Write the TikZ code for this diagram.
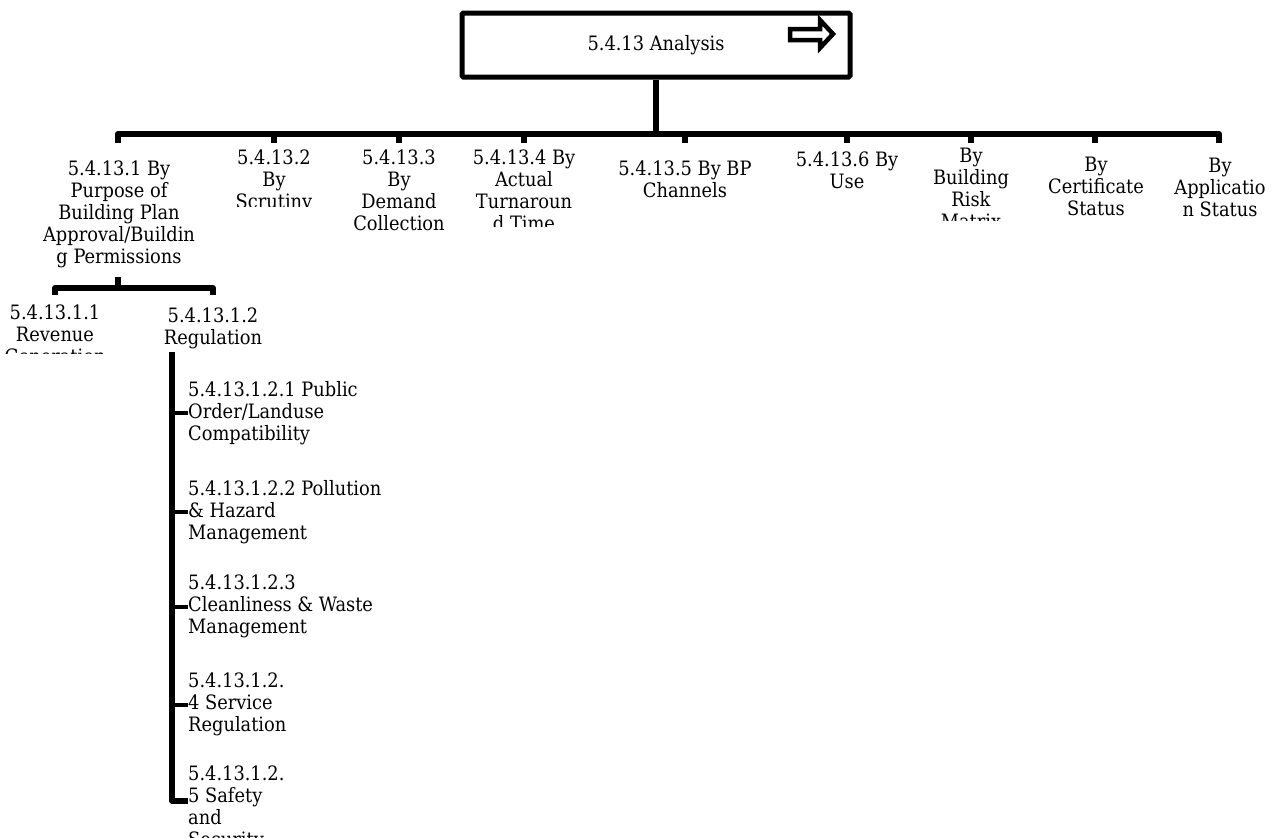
\documentclass[tikz,border=0pt]{standalone}
\usepackage{fontspec}
\setmainfont{DejaVu Serif Condensed}
\usetikzlibrary{positioning}

\begin{document}
\begin{tikzpicture}[
  x=1pt, y=-1pt,
  every node/.style={font=\fontsize{19.8}{22}\selectfont, inner sep=0pt},
  rootbox/.style={draw, line width=5pt, rounded corners=1.5pt, minimum width=388pt, minimum height=64pt},
  leaf/.style={align=center, anchor=north},
  item/.style={align=left, anchor=north west},
  tree/.style={line width=6pt, line join=round},
  stub/.style={line width=4.5pt}
]
  \useasboundingbox (0,0) rectangle (1278,838);

  % Wurzel
  \node[rootbox] (root) at (656,45) {5.4.13 Analysis};
  \draw[line width=4.5pt, fill=white] (790,29) -- (820,29) -- (820,20) -- (833,34) -- (820,48) -- (820,40) -- (790,40) -- cycle;

  % erste Ebene
  \coordinate (bar) at (656,134);
  \coordinate (t1) at (118,143);
  \coordinate (t2) at (274,143);
  \coordinate (t3) at (399,143);
  \coordinate (t4) at (524,143);
  \coordinate (t5) at (685,143);
  \coordinate (t6) at (847,143);
  \coordinate (t7) at (971,143);
  \coordinate (t8) at (1095,143);
  \coordinate (t9) at (1219,143);
  \draw[tree] (root.south) -- (bar);
  \draw[tree] (t1) -- (t1 |- bar) -- (t9 |- bar) -- (t9);
  \foreach \t in {t2,t3,t4,t5,t6,t7,t8}
    \draw[tree] (\t |- bar) -- (\t);

  \node[leaf] (purp) at (119,161) {5.4.13.1 By\\Purpose of\\Building Plan\\Approval/Buildin\\g Permissions};
  \begin{scope}
    \clip (200,140) rectangle (350,206);
    \node[leaf] (scru) at (274,150) {5.4.13.2\\By\\Scrutiny};
  \end{scope}
  \node[leaf] (dem) at (399,150) {5.4.13.3\\By\\Demand\\Collection};
  \begin{scope}
    \clip (450,140) rectangle (600,226);
    \node[leaf] (tat) at (524,150) {5.4.13.4 By\\Actual\\Turnaroun\\d Time};
  \end{scope}
  \node[leaf] (chan) at (685,161) {5.4.13.5 By BP\\Channels};
  \node[leaf] (use) at (847,152) {5.4.13.6 By\\Use};
  \begin{scope}
    \clip (900,140) rectangle (1040,220);
    \node[leaf] (risk) at (971,148) {By\\Building\\Risk\\Matrix};
  \end{scope}
  \node[leaf] (cert) at (1096,157) {By\\Certificate\\Status};
  \node[leaf] (appl) at (1220,158) {By\\Applicatio\\n Status};

  % zweite Ebene
  \coordinate (pstub) at (118,277);
  \coordinate (sbar) at (118,288);
  \coordinate (s1) at (55,295);
  \coordinate (s2) at (213,295);
  \draw[tree] (pstub) -- (sbar);
  \draw[tree] (s1) -- (s1 |- sbar) -- (s2 |- sbar) -- (s2);

  \begin{scope}
    \clip (0,298) rectangle (140,353);
    \node[leaf] (rev) at (55,305) {5.4.13.1.1\\Revenue\\Generation};
  \end{scope}
  \node[leaf] (reg) at (213,308) {5.4.13.1.2\\Regulation};

  % dritte Ebene
  \coordinate (spine) at (172,352);
  \node[item] (i1) at (188,381) {5.4.13.1.2.1 Public\\Order/Landuse\\Compatibility};
  \node[item] (i2) at (188,480) {5.4.13.1.2.2 Pollution\\\& Hazard\\Management};
  \node[item] (i3) at (188,575) {5.4.13.1.2.3\\Cleanliness \& Waste\\Management};
  \node[item] (i4) at (188,673) {5.4.13.1.2.\\4 Service\\Regulation};
  \node[item] (i5) at (188,766) {5.4.13.1.2.\\5 Safety\\and\\Security};

  \draw[tree] (spine) |- ([yshift=8pt]i5.west);
  \foreach \i in {i1,i2,i3,i4}
    \draw[stub] (spine |- \i.west) -- (\i.west);

\end{tikzpicture}
\end{document}
